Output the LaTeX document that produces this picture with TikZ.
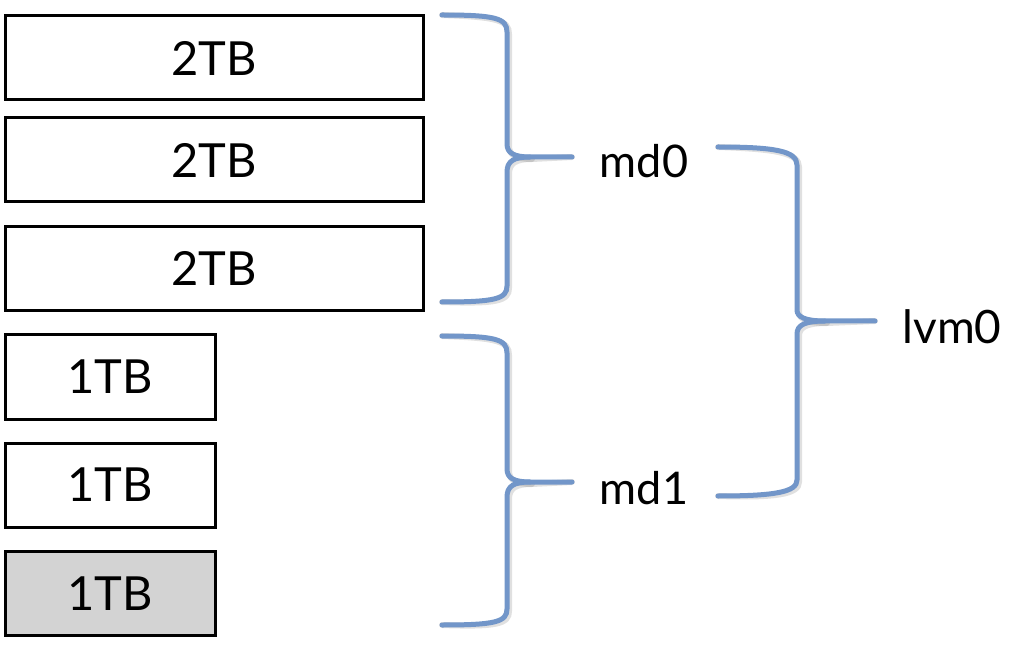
\documentclass[tikz,border=0pt]{standalone}
\usepackage{fontspec}
\setmainfont{Lato}
\definecolor{braceblue}{RGB}{114,150,201}
\definecolor{diskgray}{RGB}{211,211,211}
\begin{document}
\begin{tikzpicture}[x=1pt,y=-1pt,
  disk/.style={draw=black,line width=3pt,inner sep=0pt,font=\fontsize{47}{52}\selectfont},
  bigdisk/.style={disk,minimum width=418pt,minimum height=84pt},
  smalldisk/.style={disk,minimum width=210pt,minimum height=84pt},
  lbl/.style={inner sep=0pt,font=\fontsize{45}{50}\selectfont},
  biglbl/.style={inner sep=0pt,font=\fontsize{46}{50}\selectfont},
  bracepath/.style={draw=braceblue,line width=5pt,line cap=round,line join=round},
  braceshadow/.style={draw=black,opacity=0.12,line width=6pt,line cap=round}]
\useasboundingbox (0,0) rectangle (1031,652);
% disks
\node[bigdisk] (d1) at (214,58) {2TB};
\node[bigdisk] (d2) at (214,160) {2TB};
\node[bigdisk] (d3) at (214,268.5) {2TB};
\node[smalldisk] (d4) at (110,377) {1TB};
\node[smalldisk] (d5) at (110,485) {1TB};
\node[smalldisk,fill=diskgray] (d6) at (110,593.5) {1TB};
% labels
\node[lbl] (md0) at (644,161) {md0};
\node[lbl] (md1) at (644,488) {md1};
\node[biglbl] (lvm0) at (952,327) {lvm0};
% brace coordinates
\coordinate (b0t) at (442,15);
\coordinate (b0b) at (442,302);
\coordinate (b0p) at (572,157);
\coordinate (b1t) at (442,336);
\coordinate (b1b) at (442,625);
\coordinate (b1p) at (572,482);
\coordinate (b2t) at (718,147);
\coordinate (b2b) at (718,496);
\coordinate (b2p) at (875,321);
\foreach \st/\dx in {braceshadow/2,bracepath/0}{
\begin{scope}[shift={(\dx,\dx)}]
% brace 0
\path[\st] (b0t) .. controls (495,15) and (507,18) .. (507,32) -- (507,144)
  .. controls (507,153) and (514,157) .. (530,157) -- (b0p);
\path[\st] (530,157) .. controls (514,157) and (507,161) .. (507,172) -- (507,286)
  .. controls (507,299) and (495,302) .. (b0b);
% brace 1
\path[\st] (b1t) .. controls (495,336) and (507,339) .. (507,353) -- (507,469)
  .. controls (507,478) and (514,482) .. (530,482) -- (b1p);
\path[\st] (530,482) .. controls (514,482) and (507,486) .. (507,497) -- (507,609)
  .. controls (507,622) and (495,625) .. (b1b);
% brace 2
\path[\st] (b2t) .. controls (775,147) and (797,151) .. (797,165) -- (797,310)
  .. controls (797,317) and (805,321) .. (825,321) -- (b2p);
\path[\st] (825,321) .. controls (805,321) and (797,325) .. (797,334) -- (797,480)
  .. controls (797,492) and (775,496) .. (b2b);
\end{scope}}
\end{tikzpicture}
\end{document}
